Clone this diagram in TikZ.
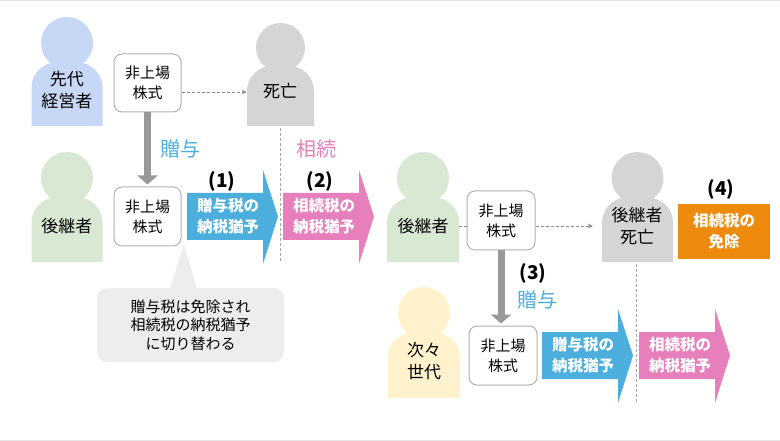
\documentclass[tikz,border=0pt]{standalone}
\usepackage{fontspec}
\setmainfont{Noto Sans CJK JP}
\usetikzlibrary{arrows.meta}
\definecolor{personblue}{HTML}{C6D8F5}
\definecolor{persongreen}{HTML}{D9E8D2}
\definecolor{persongray}{HTML}{D5D5D5}
\definecolor{personyellow}{HTML}{FFF2CC}
\definecolor{taxblue}{HTML}{4BAEDC}
\definecolor{taxpink}{HTML}{E67FBB}
\definecolor{taxorange}{HTML}{EE8A0E}
\tikzset{
	stockbox/.style={draw=black!30, line width=1pt, fill=white, rounded corners=8pt, inner sep=0pt, align=center, font=\fontsize{15}{20}\selectfont},
	persontext/.style={align=center, inner sep=0pt, font=\fontsize{17}{22}\selectfont},
	arrowtext/.style={align=center, inner sep=0pt, text=white, font=\fontsize{15.5}{21}\selectfont\bfseries},
	giftlabel/.style={inner sep=0pt, font=\fontsize{20}{22}\selectfont},
	numlabel/.style={inner sep=0pt, font=\fontsize{19}{22}\selectfont\bfseries},
	dashline/.style={densely dashed, draw=black!45, line width=0.7pt},
	giftarrow/.style={draw=black!40, line width=7pt, -{Triangle[width=20pt,length=9pt]}, shorten >=2pt},
}
% name, centre x, head y, head radius, half width, bottom y, colour
\newcommand{\person}[7]{
	\fill[#7] (#2,#3) circle (#4pt);
	\fill[#7] (#2-#5,#6) [rounded corners=25pt] -- (#2-#5,#3+0.75*#4) -- (#2+#5,#3+0.75*#4) [sharp corners] -- (#2+#5,#6) -- cycle;
	\node[inner sep=0pt, minimum width=2*#5*1pt, minimum height=(#6-#3-0.75*#4)*1pt] (#1) at (#2,{(#6+#3+0.75*#4)/2}) {};
}
% name, left x, shaft top y, colour, text
\newcommand{\taxarrow}[5]{
	\fill[#4] (#2,#3) -- (#2+76,#3) -- (#2+76,#3-23) -- (#2+91,#3+23.5) -- (#2+76,#3+71) -- (#2+76,#3+47) -- (#2,#3+47) -- cycle;
	\node[arrowtext] (#1) at (#2+41,#3+23.5) {#5};
}
\begin{document}
\begin{tikzpicture}[x=1pt,y=-1pt]
	\useasboundingbox (0,0) rectangle (780,441);
	\fill[black!10] (0,0) rectangle (780,1.2);
	\fill[black!10] (0,440) rectangle (780,441);

	\person{founder}{67}{43}{26}{35.5}{126}{personblue}
	\person{dead}{280.5}{47.5}{24.5}{33.5}{126}{persongray}
	\person{heir}{67}{178}{26}{35.5}{262}{persongreen}
	\person{heirb}{423}{178}{26}{36}{262}{persongreen}
	\person{heirdead}{637.5}{178}{26}{35.5}{262}{persongray}
	\person{nextgen}{424}{313}{26}{36}{398}{personyellow}

	\node[persontext] (founderlabel) at (67,90) {先代\\経営者};
	\node[persontext] (deadlabel) at (280,91) {死亡};
	\node[persontext] (heirlabel) at (67,226) {後継者};
	\node[persontext] (heirblabel) at (423,226) {後継者};
	\node[persontext] (heirdeadlabel) at (637,226) {後継者\\死亡};
	\node[persontext] (nextgenlabel) at (424,361) {次々\\世代};

	\node[stockbox, minimum width=67pt, minimum height=58pt] (stocka) at (147.5,83) {非上場\\株式};
	\node[stockbox, minimum width=67pt, minimum height=59pt] (stockb) at (147.5,216.5) {非上場\\株式};
	\node[stockbox, minimum width=68pt, minimum height=59pt] (stockc) at (501,220.5) {非上場\\株式};
	\node[stockbox, minimum width=68pt, minimum height=59pt] (stockd) at (503,355.5) {非上場\\株式};

	\draw[giftarrow] (stocka.south) -- (stockb.north);
	\draw[giftarrow] (stockc.south) -- (stockc.south |- stockd.north);

	\draw[dashline, -{Stealth[length=5pt,width=4.5pt]}] ([yshift=-9pt]stocka.east) -- ([yshift=-9pt]stocka.east -| dead.west);
	\coordinate (heirdeadin) at (593,226);
	\draw[dashline, -{Stealth[length=5pt,width=4.5pt]}] (stockc.east |- heirdeadin) -- (heirdeadin);
	\draw[dashline] (heirb.east |- heirdeadin) -- (stockc.west |- heirdeadin);

	\coordinate (splitb) at (280.5,262);
	\coordinate (splitd) at (636,402);
	\draw[densely dashed, draw=black!35, line width=1pt] (dead.south) ++(0,2) -- (splitb);
	\draw[densely dashed, draw=black!35, line width=1pt] (636,264) -- (splitd);

	\node[giftlabel, text=taxblue] (gifta) at (180,149) {贈与};
	\node[giftlabel, text=taxpink] (inherita) at (316,149) {相続};
	\node[giftlabel, text=taxblue] (giftb) at (537,300) {贈与};

	\node[numlabel] (numa) at (222,181) {(1)};
	\node[numlabel] (numb) at (320,181) {(2)};
	\node[numlabel] (numc) at (533,273) {(3)};
	\node[numlabel] (numd) at (721,189) {(4)};

	\taxarrow{defera}{187}{193}{taxblue}{贈与税の\\納税猶予}
	\taxarrow{deferb}{283}{193}{taxpink}{相続税の\\納税猶予}
	\taxarrow{deferc}{542}{332}{taxblue}{贈与税の\\納税猶予}
	\taxarrow{deferd}{639}{332}{taxpink}{相続税の\\納税猶予}

	\node[fill=taxorange, minimum width=92pt, minimum height=55pt, inner sep=0pt, align=center, text=white, font=\fontsize{15.5}{21}\selectfont\bfseries] (exempt) at (724,231.5) {相続税の\\免除};

	\fill[black!7] (170,289) -- (184,244) -- (197,289) -- cycle;
	\node[fill=black!7, rounded corners=10pt, minimum width=187pt, minimum height=74pt, inner sep=0pt, align=center, font=\fontsize{15}{18.5}\selectfont] (note) at (190.5,325) {贈与税は免除され\\相続税の納税猶予\\に切り替わる};
\end{tikzpicture}
\end{document}
